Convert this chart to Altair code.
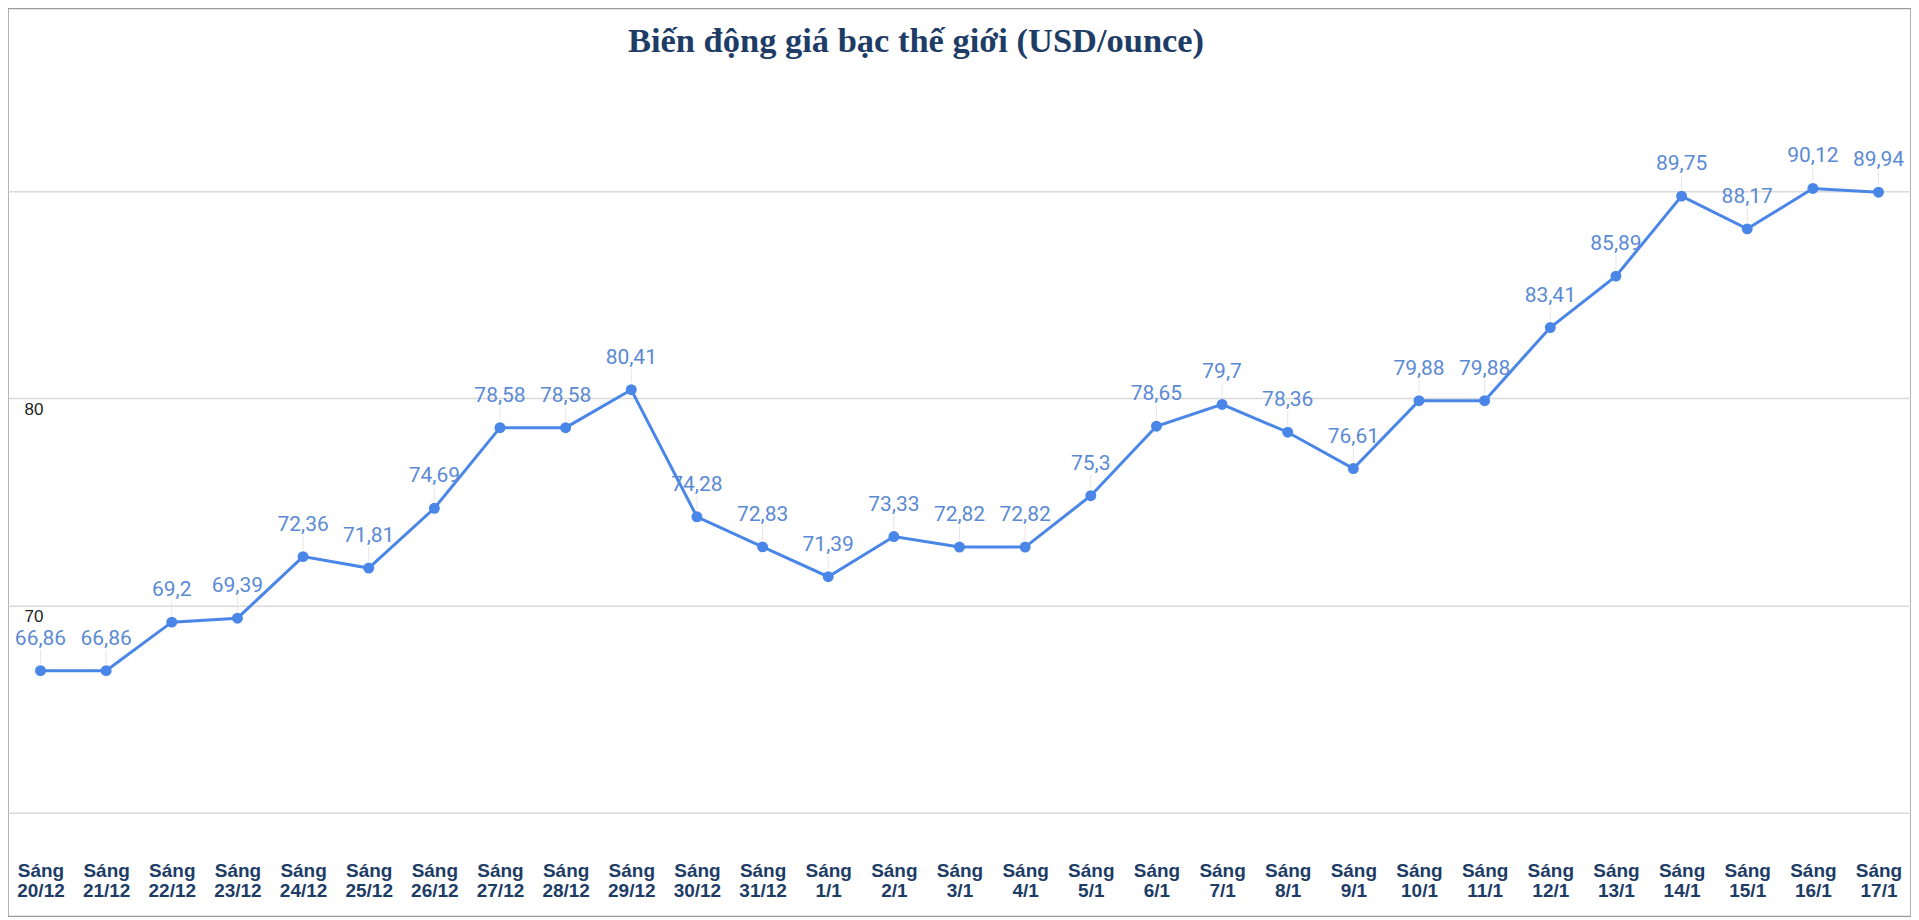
import altair as alt
import pandas as pd

dates = ["20/12", "21/12", "22/12", "23/12", "24/12", "25/12", "26/12", "27/12",
         "28/12", "29/12", "30/12", "31/12", "1/1", "2/1", "3/1", "4/1", "5/1",
         "6/1", "7/1", "8/1", "9/1", "10/1", "11/1", "12/1", "13/1", "14/1",
         "15/1", "16/1", "17/1"]
prices = [66.86, 66.86, 69.2, 69.39, 72.36, 71.81, 74.69, 78.58, 78.58, 80.41,
          74.28, 72.83, 71.39, 73.33, 72.82, 72.82, 75.3, 78.65, 79.7, 78.36,
          76.61, 79.88, 79.88, 83.41, 85.89, 89.75, 88.17, 90.12, 89.94]
session = "Sáng"
y_ticks = [60, 70, 80, 90]
y_labeled = [70, 80]
title_text = "Biến động giá bạc thế giới (USD/ounce)"

df = pd.DataFrame({
    "date": dates,
    "price": prices,
    "label": [f"{p:g}".replace(".", ",") for p in prices],
})
title_df = pd.DataFrame({"title": [title_text]})

LINE = "#4a86e8"
LABEL = "#5b8ad4"
NAVY = "#1d3c66"

x = alt.X(
    "date:N", sort=dates,
    scale=alt.Scale(type="point", padding=0.495),
    axis=alt.Axis(
        title=None, orient="bottom", domain=False, ticks=False, tickSize=0, grid=False,
        labelExpr=f"['{session}', datum.label]", labelAngle=0, labelOverlap=False,
        labelPadding=-55, labelBaseline="top", labelFontSize=19,
        labelFont="Liberation Sans", labelFontWeight="bold", labelColor=NAVY,
        labelLineHeight=20,
    ),
)
y = alt.Y(
    "price:Q",
    scale=alt.Scale(domain=[55, 98.8], nice=False, zero=False),
    axis=alt.Axis(
        title=None, values=y_ticks, domain=False, ticks=False, tickSize=0,
        grid=True, gridColor="#d9d9d9", gridWidth=1.5,
        labelExpr=f"indexof({y_labeled}, datum.value) >= 0 ? datum.label : ''",
        labelAlign="left", labelPadding=-16, labelBaseline="top", labelOffset=3,
        labelFontSize=17, labelFont="Liberation Sans", labelColor="#222222",
    ),
)

base = alt.Chart(df).encode(x=x, y=y)

leader = base.mark_rule(color="#e6e6e6", strokeWidth=1, yOffset=-21, y2Offset=-7).encode(
    y2="price:Q")
line = base.mark_line(color=LINE, strokeWidth=3)
pts = base.mark_circle(color=LINE, size=120, opacity=1)
txt = base.mark_text(dy=-32, baseline="middle", align="center", fontSize=21,
                     font="Roboto", color=LABEL).encode(text="label:N")

title_mark = alt.Chart(title_df).mark_text(
    font="Liberation Serif", fontSize=34.5, fontWeight="bold", color=NAVY,
    align="center", baseline="alphabetic",
).encode(text="title:N", x=alt.value(909), y=alt.value(44))

chart = (leader + line + pts + txt + title_mark).properties(
    width=1905, height=909,
    autosize=alt.AutoSizeParams(type="none"),
    padding=0,
).configure_view(stroke="#9a9a9a", strokeWidth=1.5)

chart.save("out.html", embed_options={"renderer": "svg", "actions": False})
